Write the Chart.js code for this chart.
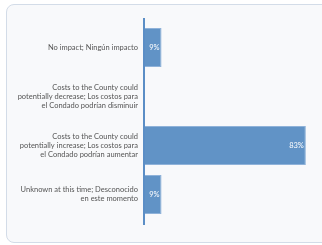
<!DOCTYPE html>
<html><head><meta charset="utf-8">
<script src="https://cdn.jsdelivr.net/npm/chart.js@4"></script>
<style>
html,body{margin:0;padding:0;background:#fff;overflow:hidden;width:322px;height:245px;}
#card{position:absolute;left:6px;top:4px;width:360px;height:237px;border:1.5px solid #d3dce8;border-radius:8px;background:#f8f9fb;}
#wrap{position:absolute;left:0;top:0;width:339px;height:245px;}
</style></head><body>
<div id="card"></div>
<div id="wrap"><canvas id="c"></canvas></div>
<script>
const categories = [
  ["No impact; Ningún impacto"],
  ["Costs to the County could", "potentially decrease; Los costos para", "el Condado podrían disminuir"],
  ["Costs to the County could", "potentially increase; Los costos para", "el Condado podrían aumentar"],
  ["Unknown at this time; Desconocido", "en este momento"]
];
const values = [9, 0, 83, 9];
const valueLabels = ["9%", "", "83%", "9%"];

const barLabels = {
  id: 'barLabels',
  afterDatasetsDraw(chart) {
    const ctx = chart.ctx;
    const meta = chart.getDatasetMeta(0);
    ctx.save();
    ctx.font = '7.5px Lato, sans-serif';
    ctx.fillStyle = '#ffffff';
    ctx.textAlign = 'right';
    ctx.textBaseline = 'middle';
    meta.data.forEach((el, i) => {
      if (!valueLabels[i]) return;
      ctx.fillText(valueLabels[i], el.x - 2, el.y);
    });
    ctx.restore();
  }
};
const axisLine = {
  id: 'axisLine',
  afterDraw(chart) {
    const a = chart.chartArea, ctx = chart.ctx;
    ctx.save();
    ctx.strokeStyle = '#5b8ec6';
    ctx.lineWidth = 2;
    ctx.beginPath();
    ctx.moveTo(a.left, a.top - 5);
    ctx.lineTo(a.left, a.bottom + 6);
    ctx.stroke();
    ctx.restore();
  }
};

new Chart(document.getElementById('c'), {
  type: 'bar',
  data: {
    labels: categories,
    datasets: [{
      data: values,
      backgroundColor: '#6193c6',
      borderColor: '#8fb2d9',
      borderWidth: 1,
      borderSkipped: 'start',
      barPercentage: 1,
      categoryPercentage: 0.8
    }]
  },
  options: {
    indexAxis: 'y',
    responsive: true,
    maintainAspectRatio: false,
    animation: false,
    devicePixelRatio: 1,
    layout: { padding: { left: 0, right: 0, top: 23, bottom: 26 } },
    plugins: { legend: { display: false }, tooltip: { enabled: false } },
    scales: {
      x: { display: false, min: 0, max: 100 },
      y: {
        afterFit(s) { s.width = 144; },
        grid: { display: false, drawTicks: false },
        border: { display: false },
        ticks: {
          padding: 6,
          color: '#555555',
          font: { family: 'Lato, sans-serif', size: 7.5, lineHeight: 1.2 },
          crossAlign: 'near'
        }
      }
    }
  },
  plugins: [barLabels, axisLine]
});
</script>
</body></html>
